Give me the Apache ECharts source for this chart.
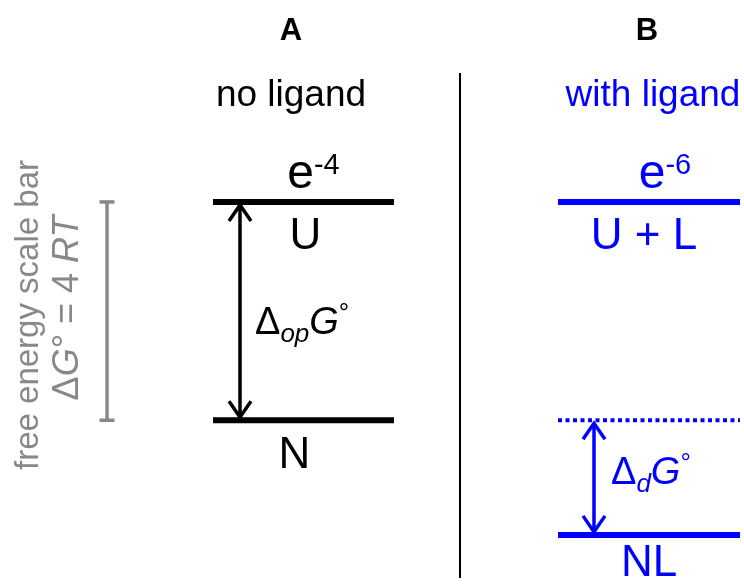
<!DOCTYPE html>
<html>
<head>
<meta charset="utf-8">
<script src="https://cdn.jsdelivr.net/npm/echarts@6/dist/echarts.min.js"></script>
<style>
  html, body { margin: 0; background: #fff; }
  #chart { width: 744px; height: 584px; }
</style>
</head>
<body>
<div id="chart"></div>
<script>
// free energies in RT units, N (unliganded native) = 0
const levelNamesA = ["U", "N"];
const levelEnergyA = [4, 0];
const weightA = "-4";            // e^-4

const levelNamesB = ["U + L", "NL"];
const levelEnergyB = [4, -2.1];
const refEnergyB = 0;            // dotted line = N level
const weightB = "-6";            // e^-6

const scaleBarRT = 4;            // scale bar: ΔG° = 4 RT

const panelTitles = ["A", "B"];
const panelSubtitles = ["no ligand", "with ligand"];

const BLACK = "#000";
const BLUE = "#0000ff";
const GREY = "#888888";
const FONT = '"Liberation Sans", Arial, Helvetica, sans-serif';

// layout (pixels on the 744 wide x axis)
const spanA = [213, 394];
const spanB = [558, 740];
const arrowXA = 240;
const arrowXB = 594;
const scaleBarX = 107;

const chart = echarts.init(document.getElementById("chart"));

// text helper: a run of pieces (text, size, italic, rise) on one baseline
const measureCtx = document.createElement("canvas").getContext("2d");
function textRun(x, baseline, parts, color, align) {
  const widths = parts.map(p => {
    measureCtx.font = (p[2] ? "italic " : "") + p[1] + "px " + FONT;
    return measureCtx.measureText(p[0]).width;
  });
  const total = widths.reduce((a, b) => a + b, 0);
  let cx = align === "center" ? x - total / 2 : x;
  return parts.map((p, i) => {
    const el = {
      type: "text",
      style: {
        text: p[0],
        x: cx,
        y: baseline - (p[3] || 0) - 0.35 * p[1],
        fill: color,
        fontSize: p[1],
        fontFamily: FONT,
        fontStyle: p[2] ? "italic" : "normal",
        align: "left",
        verticalAlign: "middle"
      }
    };
    cx += widths[i];
    return el;
  });
}

function levelLine(span, energy, color, dashed) {
  return {
    type: "line",
    data: [[span[0], energy], [span[1], energy]],
    symbol: "none",
    silent: true,
    lineStyle: { color: color, width: dashed ? 4 : 6, type: dashed ? [4, 3.5] : "solid", cap: "butt" }
  };
}

// labels attached to a level: [spanCenter + dx, energy] and baseline offset
function levelLabel(span, energy, dx, dy, parts, color) {
  return { x: (span[0] + span[1]) / 2 + dx, energy, dy, parts, color };
}
const levelLabels = [
  levelLabel(spanA, levelEnergyA[0], 10, -10, [["e", 48], [weightA, 29, false, 16]], BLACK),
  levelLabel(spanA, levelEnergyA[0], 2, 50, [[levelNamesA[0], 44]], BLACK),
  levelLabel(spanA, levelEnergyA[1], -9, 51, [[levelNamesA[1], 44]], BLACK),
  levelLabel(spanB, levelEnergyB[0], 16, -10, [["e", 48], [weightB, 29, false, 16]], BLUE),
  levelLabel(spanB, levelEnergyB[0], -5, 50, [[levelNamesB[0], 44]], BLUE),
  levelLabel(spanB, levelEnergyB[1], 0, 44, [[levelNamesB[1], 44]], BLUE)
];

const labelSeries = {
  type: "custom",
  silent: true,
  data: levelLabels.map(l => [l.x, l.energy]),
  renderItem: function (params, api) {
    const l = levelLabels[params.dataIndex];
    const p = api.coord([api.value(0), api.value(1)]);
    return { type: "group", children: textRun(p[0], p[1] + l.dy, l.parts, l.color, "center") };
  }
};

// double headed arrows between two levels, with the ΔG label beside them
const arrows = [
  { x: arrowXA, lo: levelEnergyA[1], hi: levelEnergyA[0], color: BLACK, dx: 15, dy: 26,
    parts: [["Δ", 38], ["op", 26, true, -7], ["G", 38, true], ["°", 26, false, 14]] },
  { x: arrowXB, lo: levelEnergyB[1], hi: refEnergyB, color: BLUE, dx: 17, dy: 9,
    parts: [["Δ", 38], ["d", 26, true, -7], ["G", 38, true], ["°", 26, false, 14]] }
];
const arrowSeries = {
  type: "custom",
  silent: true,
  data: arrows.map(a => [a.x, a.lo, a.hi]),
  renderItem: function (params, api) {
    const a = arrows[params.dataIndex];
    const top = api.coord([api.value(0), api.value(2)]);
    const bot = api.coord([api.value(0), api.value(1)]);
    const x = top[0], y1 = top[1] + 3, y2 = bot[1] - 3;
    const hw = 11, hh = 16;
    const st = { stroke: a.color, lineWidth: 3.5, fill: null };
    return {
      type: "group",
      children: [
        { type: "line", shape: { x1: x, y1: y1, x2: x, y2: y2 }, style: st },
        { type: "polyline", shape: { points: [[x - hw, y1 + hh], [x, y1], [x + hw, y1 + hh]] }, style: st },
        { type: "polyline", shape: { points: [[x - hw, y2 - hh], [x, y2], [x + hw, y2 - hh]] }, style: st }
      ].concat(textRun(x + a.dx, (y1 + y2) / 2 + a.dy, a.parts, a.color, "left"))
    };
  }
};

const scaleBarSeries = {
  type: "custom",
  silent: true,
  data: [[scaleBarX, 0, scaleBarRT]],
  renderItem: function (params, api) {
    const top = api.coord([api.value(0), api.value(2)]);
    const bot = api.coord([api.value(0), api.value(1)]);
    const x = top[0], w = 7.5;
    const st = { stroke: GREY, lineWidth: 3.5 };
    return {
      type: "group",
      children: [
        { type: "line", shape: { x1: x, y1: top[1], x2: x, y2: bot[1] }, style: st },
        { type: "line", shape: { x1: x - w, y1: top[1], x2: x + w, y2: top[1] }, style: st },
        { type: "line", shape: { x1: x - w, y1: bot[1], x2: x + w, y2: bot[1] }, style: st }
      ]
    };
  }
};

chart.setOption({
  animation: false,
  grid: { left: 0, right: 0, top: 0, bottom: 0 },
  xAxis: { type: "value", min: 0, max: 744, show: false },
  yAxis: { type: "value", min: -3, max: 7.7, show: false },
  graphic: [
    { type: "text", x: 291, y: 31, style: { text: panelTitles[0], fontSize: 31, fontWeight: "bold", fontFamily: FONT, fill: BLACK, align: "center", verticalAlign: "middle" } },
    { type: "text", x: 647, y: 31, style: { text: panelTitles[1], fontSize: 31, fontWeight: "bold", fontFamily: FONT, fill: BLACK, align: "center", verticalAlign: "middle" } },
    { type: "text", x: 291, y: 96, style: { text: panelSubtitles[0], fontSize: 37, fontFamily: FONT, fill: BLACK, align: "center", verticalAlign: "middle" } },
    { type: "text", x: 653, y: 96, style: { text: panelSubtitles[1], fontSize: 37, fontFamily: FONT, fill: BLUE, align: "center", verticalAlign: "middle" } },
    { type: "line", shape: { x1: 460, y1: 73, x2: 460, y2: 578 }, style: { stroke: BLACK, lineWidth: 2 } },
    { type: "text", x: 29, y: 315, rotation: Math.PI / 2,
      style: { text: "free energy scale bar", fontSize: 33, fontFamily: FONT, fill: GREY, align: "center", verticalAlign: "middle" } },
    { type: "text", x: 68, y: 308, rotation: Math.PI / 2,
      style: {
        text: "{n|Δ}{i|G}{n|° = 4 }{i|RT}",
        align: "center", verticalAlign: "middle",
        rich: {
          n: { fontSize: 36, fontFamily: FONT, fill: GREY },
          i: { fontSize: 36, fontFamily: FONT, fontStyle: "italic", fill: GREY }
        }
      } }
  ],
  series: [
    levelLine(spanA, levelEnergyA[0], BLACK),
    levelLine(spanA, levelEnergyA[1], BLACK),
    levelLine(spanB, levelEnergyB[0], BLUE),
    levelLine(spanB, refEnergyB, BLUE, true),
    levelLine(spanB, levelEnergyB[1], BLUE),
    arrowSeries,
    scaleBarSeries,
    labelSeries
  ]
});
</script>
</body>
</html>
